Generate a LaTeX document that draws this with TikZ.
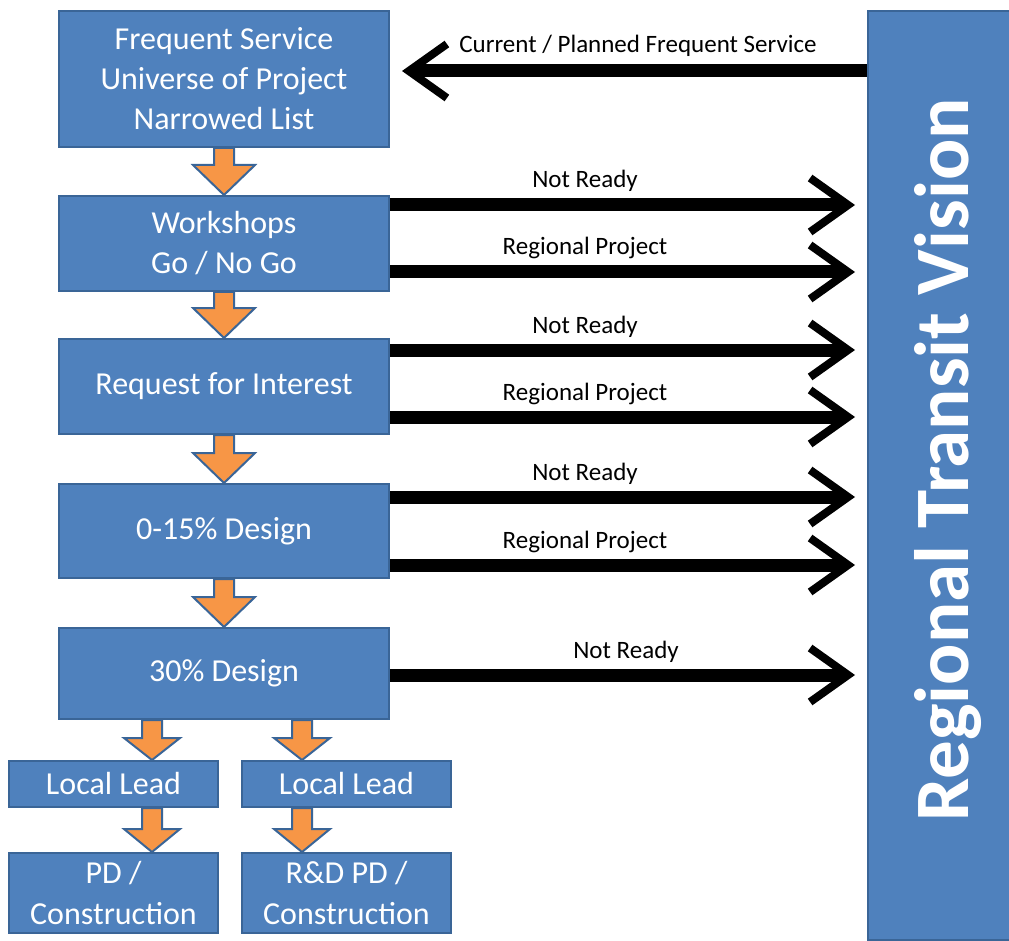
\documentclass[tikz,border=0pt]{standalone}
\usepackage{fontspec}
\setmainfont{Carlito}
\usetikzlibrary{arrows.meta,calc}
\definecolor{boxblue}{HTML}{4F81BD}
\definecolor{boxedge}{HTML}{3A6597}
\definecolor{orng}{HTML}{F79646}
\newcommand{\orarrow}[5]{%
  \path[oarrow] let \p1=(#1), \p2=(#2) in
    (\x1-#3pt,\y1) -- (\x1-#3pt,\y2+#5pt) -- (\x1-#4pt,\y2+#5pt) -- (\x1,\y2)
    -- (\x1+#4pt,\y2+#5pt) -- (\x1+#3pt,\y2+#5pt) -- (\x1+#3pt,\y1) -- cycle;}
\begin{document}
\begin{tikzpicture}[x=1pt,y=-1pt,
  box/.style={draw=boxedge, line width=2pt, fill=boxblue, text=white, align=center,
    font=\fontsize{32}{40}\selectfont, inner sep=0pt, anchor=north west},
  lbl/.style={anchor=base, font=\fontsize{25}{30}\selectfont, text=black},
  rarrow/.style={line width=13pt, -{Straight Barb[length=38pt,width=54pt,line width=8pt]}, shorten >=12pt},
  oarrow/.style={draw=boxedge, line width=2pt, fill=orng, line join=miter}]
\path[use as bounding box] (0,0) rectangle (1009,941);
\clip (0,0) rectangle (1009,941);
% main column
\node[box, minimum width=330pt, minimum height=136pt] (b1) at (58,10) {Frequent Service\\Universe of Project\\Narrowed List};
\node[box, minimum width=330pt, minimum height=95pt] (b2) at (58,195) {Workshops\\Go / No Go};
\node[box, minimum width=330pt, minimum height=95pt] (b3) at (58,338) {Request for Interest};
\node[box, minimum width=330pt, minimum height=94pt] (b4) at (58,483) {0-15\% Design};
\node[box, minimum width=330pt, minimum height=91pt] (b5) at (58,627) {30\% Design};
\node[box, minimum width=209pt, minimum height=46pt] (ll1) at (8,760) {Local Lead};
\node[box, minimum width=209pt, minimum height=46pt] (ll2) at (241,760) {Local Lead};
\node[box, minimum width=209pt, minimum height=80pt] (pd1) at (8,852) {PD /\\Construction};
\node[box, minimum width=209pt, minimum height=80pt] (pd2) at (241,852) {R\&D PD /\\Construction};
% right column
\node[box, minimum width=220pt, minimum height=929pt] (rtv) at (867,10) {};
\node[rotate=90, anchor=base, text=white, font=\bfseries\fontsize{77}{80}\selectfont] (title) at (968,460) {Regional Transit Vision};
% orange arrows
\orarrow{b1.south}{b2.north}{10}{31}{30}
\orarrow{b2.south}{b3.north}{10}{31}{30}
\orarrow{b3.south}{b4.north}{10}{31}{30}
\orarrow{b4.south}{b5.north}{10}{31}{30}
\orarrow{$(b5.south west)+(94,0)$}{ll1.north}{10}{28}{22}
\orarrow{$(b5.south west)+(244,0)$}{ll2.north}{10}{28}{22}
\orarrow{$(ll1.south west)+(144,0)$}{pd1.north}{10}{28}{23}
\orarrow{$(ll2.south west)+(61,0)$}{pd2.north}{10}{28}{23}
% black arrows
\coordinate (c0) at ($(b1.north east)+(0,61)$);
\coordinate (n1) at ($(b2.north east)+(0,10)$);
\coordinate (r1) at ($(b2.north east)+(0,77)$);
\coordinate (n2) at ($(b3.north east)+(0,12)$);
\coordinate (r2) at ($(b3.north east)+(0,79)$);
\coordinate (n3) at ($(b4.north east)+(0,14)$);
\coordinate (r3) at ($(b4.north east)+(0,82)$);
\coordinate (n4) at ($(b5.north east)+(0,48)$);
\draw[rarrow] (c0 -| rtv.west) -- (c0);
\foreach \c in {n1,r1,n2,r2,n3,r3,n4}{\draw[rarrow] (\c) -- (\c -| rtv.west);}
\node[lbl] (l0) at ($(c0)+(248,-18)$) {Current / Planned Frequent Service};
\node[lbl] (ln1) at ($(n1)+(195,-17)$) {Not Ready};
\node[lbl] (lr1) at ($(r1)+(195,-17)$) {Regional Project};
\node[lbl] (ln2) at ($(n2)+(195,-17)$) {Not Ready};
\node[lbl] (lr2) at ($(r2)+(195,-17)$) {Regional Project};
\node[lbl] (ln3) at ($(n3)+(195,-17)$) {Not Ready};
\node[lbl] (lr3) at ($(r3)+(195,-17)$) {Regional Project};
\node[lbl] (ln4) at ($(n4)+(236,-17)$) {Not Ready};
\end{tikzpicture}
\end{document}
